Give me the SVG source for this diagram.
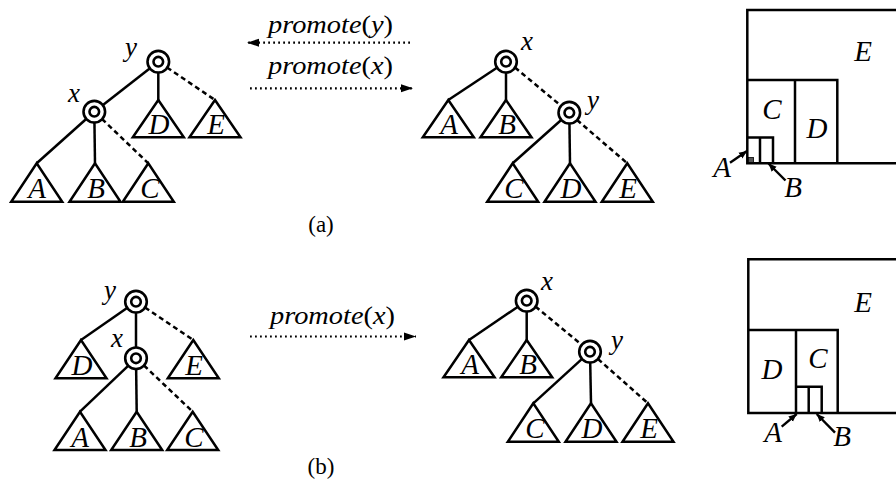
<svg xmlns="http://www.w3.org/2000/svg" width="896" height="489" viewBox="0 0 896 489">
<style>
.e{stroke:#000;stroke-width:2.5;fill:none}
.d{stroke:#000;stroke-width:2.5;fill:none;stroke-dasharray:5 3.5}
.dot{stroke:#000;stroke-width:2.2;fill:none;stroke-dasharray:1.8 3.2}
.tri{stroke:#000;stroke-width:2.5;fill:#fff;stroke-linejoin:miter}
.no{stroke:#000;stroke-width:2.6;fill:#fff}
.r{stroke:#000;stroke-width:2.5;fill:none}
text{font-family:'Liberation Serif','Times New Roman',Times,serif}
.t{font-style:italic;font-size:29px;text-anchor:middle;fill:#000}
.l{font-style:italic;font-size:27px;text-anchor:middle;fill:#000}
.p{font-size:25px;fill:#000}
.c{font-size:23px;text-anchor:middle;fill:#000}
.a{stroke:#000;stroke-width:2.4;fill:none}
</style>
<defs>
<marker id="big" markerUnits="userSpaceOnUse" markerWidth="13" markerHeight="9" refX="12" refY="4.5" orient="auto" viewBox="0 0 13 9"><path d="M0,0.5 L12,4.5 L0,8.5 z" fill="#000"/></marker>
<marker id="sm" markerUnits="userSpaceOnUse" markerWidth="9" markerHeight="8" refX="8" refY="4" orient="auto" viewBox="0 0 9 8"><path d="M0,0.5 L8,4 L0,7.5 z" fill="#000"/></marker>
<g id="nodeShape"><circle r="10.8" class="no"/><circle r="4.8" class="no"/></g>
</defs>

<!-- connectors -->
<g id="connectors">
  <!-- top-left tree -->
  <line class="e" x1="158.3" y1="61.7" x2="94.3" y2="111.7"/>
  <line class="e" x1="158.3" y1="61.7" x2="158.3" y2="100"/>
  <line class="d" x1="167" y1="67.5" x2="215" y2="100"/>
  <line class="e" x1="94.3" y1="111.7" x2="36.7" y2="163.3"/>
  <line class="e" x1="94.3" y1="111.7" x2="95" y2="163.3"/>
  <line class="d" x1="102" y1="119" x2="148.3" y2="163.3"/>
  <!-- top-middle tree -->
  <line class="e" x1="506" y1="61.7" x2="448.3" y2="100"/>
  <line class="e" x1="506" y1="61.7" x2="506" y2="100"/>
  <line class="d" x1="515" y1="67.5" x2="569.3" y2="112.7"/>
  <line class="e" x1="569.3" y1="112.7" x2="512.7" y2="163.3"/>
  <line class="e" x1="569.3" y1="112.7" x2="570" y2="163.3"/>
  <line class="d" x1="577" y1="120" x2="627.3" y2="163.3"/>
  <!-- bottom-left tree -->
  <line class="e" x1="136" y1="301.7" x2="81" y2="340"/>
  <line class="e" x1="136" y1="301.7" x2="136" y2="358.3"/>
  <line class="d" x1="145" y1="307.5" x2="193.3" y2="340"/>
  <line class="e" x1="136" y1="358.3" x2="80" y2="411.7"/>
  <line class="e" x1="136" y1="358.3" x2="136.7" y2="411.7"/>
  <line class="d" x1="144" y1="365.5" x2="192.7" y2="411.7"/>
  <!-- bottom-middle tree -->
  <line class="e" x1="526.7" y1="300.7" x2="469" y2="340"/>
  <line class="e" x1="526.7" y1="300.7" x2="526.7" y2="340"/>
  <line class="d" x1="535.5" y1="306.5" x2="590" y2="351.7"/>
  <line class="e" x1="590" y1="351.7" x2="533.3" y2="403.3"/>
  <line class="e" x1="590" y1="351.7" x2="591" y2="403.3"/>
  <line class="d" x1="598" y1="359" x2="648" y2="403.3"/>
  <!-- promote arrows -->
  <line class="dot" x1="410" y1="42.7" x2="247" y2="42.7" marker-end="url(#big)"/>
  <line class="dot" x1="250" y1="88.3" x2="413" y2="88.3" marker-end="url(#big)"/>
  <line class="dot" x1="250" y1="336.5" x2="416" y2="336.5" marker-end="url(#big)"/>
  <!-- rectangle label arrows -->
  <line class="a" x1="730" y1="162.7" x2="747" y2="151" marker-end="url(#sm)"/>
  <line class="a" x1="785.5" y1="180.5" x2="768.5" y2="163.5" marker-end="url(#sm)"/>
  <line class="a" x1="781.7" y1="426.7" x2="796.7" y2="414" marker-end="url(#sm)"/>
  <line class="a" x1="835" y1="432.7" x2="816.7" y2="414" marker-end="url(#sm)"/>
</g>

<!-- top-left tree nodes -->
<g id="tl-y"><use href="#nodeShape" x="158.3" y="61.7"/><text class="l" x="131" y="56">y</text></g>
<g id="tl-x"><use href="#nodeShape" x="94.3" y="111.7"/><text class="l" x="74" y="101.5">x</text></g>
<g id="tl-A"><polygon class="tri" points="36.7,163.3 11.2,201.7 62.2,201.7"/><text class="t" x="37" y="198">A</text></g>
<g id="tl-B"><polygon class="tri" points="95,163.3 69.5,201.7 120.5,201.7"/><text class="t" x="96" y="198">B</text></g>
<g id="tl-C"><polygon class="tri" points="148.3,163.3 122.8,201.7 173.8,201.7"/><text class="t" x="150" y="198">C</text></g>
<g id="tl-D"><polygon class="tri" points="158.3,100 132.8,137.3 183.8,137.3"/><text class="t" x="159" y="134">D</text></g>
<g id="tl-E"><polygon class="tri" points="215,100 189.5,137.3 240.5,137.3"/><text class="t" x="216" y="134">E</text></g>

<!-- top-middle tree nodes -->
<g id="tm-x"><use href="#nodeShape" x="506" y="61.7"/><text class="l" x="527" y="50">x</text></g>
<g id="tm-y"><use href="#nodeShape" x="569.3" y="112.7"/><text class="l" x="593" y="109">y</text></g>
<g id="tm-A"><polygon class="tri" points="448.3,100 422.8,137.3 473.8,137.3"/><text class="t" x="449" y="134">A</text></g>
<g id="tm-B"><polygon class="tri" points="506,100 480.5,137.3 531.5,137.3"/><text class="t" x="507" y="134">B</text></g>
<g id="tm-C"><polygon class="tri" points="512.7,163.3 487.2,201.7 538.2,201.7"/><text class="t" x="514" y="198">C</text></g>
<g id="tm-D"><polygon class="tri" points="570,163.3 544.5,201.7 595.5,201.7"/><text class="t" x="571" y="198">D</text></g>
<g id="tm-E"><polygon class="tri" points="627.3,163.3 601.8,201.7 652.8,201.7"/><text class="t" x="628" y="198">E</text></g>

<!-- top arrow labels -->
<g id="lbl-py"><text class="p" x="268" y="33" textLength="125" lengthAdjust="spacingAndGlyphs"><tspan font-style="italic">promote</tspan>(<tspan font-style="italic">y</tspan>)</text></g>
<g id="lbl-px1"><text class="p" x="268" y="74" textLength="125" lengthAdjust="spacingAndGlyphs"><tspan font-style="italic">promote</tspan>(<tspan font-style="italic">x</tspan>)</text></g>

<!-- top-right rectangles -->
<g id="tr-rects">
  <polyline class="r" points="900,10 747.3,10 747.3,163.3 900,163.3"/>
  <polyline class="r" points="747.3,80 837.3,80 837.3,163.3"/>
  <line class="r" x1="795" y1="80" x2="795" y2="163.3"/>
  <polyline class="r" points="747.3,137.5 773,137.5 773,163.3"/>
  <line class="r" x1="760" y1="137.5" x2="760" y2="163.3"/>
  <rect x="748.5" y="157.5" width="5" height="5" fill="#555" stroke="#000" stroke-width="0.8"/>
  <text class="t" x="863" y="61">E</text>
  <text class="t" x="772" y="119">C</text>
  <text class="t" x="817" y="138">D</text>
  <text class="t" x="722" y="177">A</text>
  <text class="t" x="793" y="197">B</text>
</g>

<g id="cap-a"><text class="c" x="321" y="232">(a)</text></g>

<!-- bottom-left tree nodes -->
<g id="bl-y"><use href="#nodeShape" x="136" y="301.7"/><text class="l" x="110" y="299">y</text></g>
<g id="bl-x"><use href="#nodeShape" x="136" y="358.3"/><text class="l" x="117" y="347">x</text></g>
<g id="bl-D"><polygon class="tri" points="81,340 55.5,378.3 106.5,378.3"/><text class="t" x="82" y="375">D</text></g>
<g id="bl-E"><polygon class="tri" points="193.3,340 167.8,378.3 218.8,378.3"/><text class="t" x="194" y="375">E</text></g>
<g id="bl-A"><polygon class="tri" points="80,411.7 54.5,450 105.5,450"/><text class="t" x="80" y="446.5">A</text></g>
<g id="bl-B"><polygon class="tri" points="136.7,411.7 111.2,450 162.2,450"/><text class="t" x="138" y="446.5">B</text></g>
<g id="bl-C"><polygon class="tri" points="192.7,411.7 167.2,450 218.2,450"/><text class="t" x="194" y="446.5">C</text></g>

<g id="lbl-px2"><text class="p" x="270" y="323.5" textLength="125" lengthAdjust="spacingAndGlyphs"><tspan font-style="italic">promote</tspan>(<tspan font-style="italic">x</tspan>)</text></g>

<!-- bottom-middle tree nodes -->
<g id="bm-x"><use href="#nodeShape" x="526.7" y="300.7"/><text class="l" x="547" y="290">x</text></g>
<g id="bm-y"><use href="#nodeShape" x="590" y="351.7"/><text class="l" x="617" y="349">y</text></g>
<g id="bm-A"><polygon class="tri" points="469,340 443.5,377.3 494.5,377.3"/><text class="t" x="470" y="374">A</text></g>
<g id="bm-B"><polygon class="tri" points="526.7,340 501.2,377.3 552.2,377.3"/><text class="t" x="528" y="374">B</text></g>
<g id="bm-C"><polygon class="tri" points="533.3,403.3 507.8,441.7 558.8,441.7"/><text class="t" x="535" y="438">C</text></g>
<g id="bm-D"><polygon class="tri" points="591,403.3 565.5,441.7 616.5,441.7"/><text class="t" x="592" y="438">D</text></g>
<g id="bm-E"><polygon class="tri" points="648,403.3 622.5,441.7 673.5,441.7"/><text class="t" x="649" y="438">E</text></g>

<!-- bottom-right rectangles -->
<g id="br-rects">
  <polyline class="r" points="900,259.3 748.3,259.3 748.3,413 900,413"/>
  <polyline class="r" points="748.3,330 837.7,330 837.7,413"/>
  <line class="r" x1="796" y1="330" x2="796" y2="413"/>
  <polyline class="r" points="796,386.7 821.7,386.7 821.7,413"/>
  <line class="r" x1="808.7" y1="386.7" x2="808.7" y2="413"/>
  <text class="t" x="863" y="311.5">E</text>
  <text class="t" x="772" y="378.5">D</text>
  <text class="t" x="818" y="367.5">C</text>
  <text class="t" x="773" y="442">A</text>
  <text class="t" x="842" y="446">B</text>
</g>

<g id="cap-b"><text class="c" x="321" y="474">(b)</text></g>
</svg>
